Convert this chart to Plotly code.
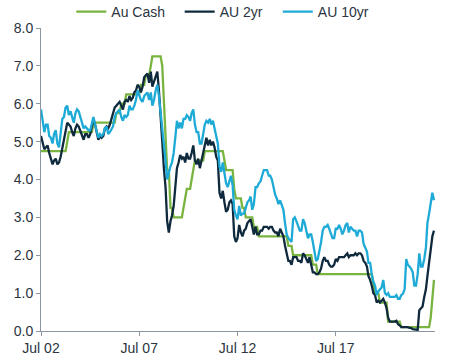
import pandas as pd
import plotly.graph_objects as go

# Monthly observations, Jul 2002 .. Jul 2022
dates = pd.date_range("2002-07-01", "2022-07-01", freq="MS")

au_cash = [
    4.75, 4.75, 4.75, 4.75, 4.75, 4.75,
    4.75, 4.75, 4.75, 4.75, 4.75, 4.75, 4.75, 4.75, 4.75, 4.75, 5.00, 5.25,
    5.25, 5.25, 5.25, 5.25, 5.25, 5.25, 5.25, 5.25, 5.25, 5.25, 5.25, 5.25,
    5.25, 5.25, 5.50, 5.50, 5.50, 5.50, 5.50, 5.50, 5.50, 5.50, 5.50, 5.50,
    5.50, 5.50, 5.50, 5.50, 5.75, 5.75, 5.75, 6.00, 6.00, 6.00, 6.25, 6.25,
    6.25, 6.25, 6.25, 6.25, 6.25, 6.25, 6.25, 6.50, 6.50, 6.50, 6.75, 6.75,
    6.75, 7.00, 7.25, 7.25, 7.25, 7.25, 7.25, 7.25, 7.00, 6.00, 5.25, 4.25,
    4.25, 3.25, 3.25, 3.00, 3.00, 3.00, 3.00, 3.00, 3.00, 3.25, 3.50, 3.75,
    3.75, 3.75, 4.00, 4.25, 4.50, 4.50, 4.50, 4.50, 4.50, 4.50, 4.75, 4.75,
    4.75, 4.75, 4.75, 4.75, 4.75, 4.75, 4.75, 4.75, 4.75, 4.75, 4.50, 4.25,
    4.25, 4.25, 4.25, 4.25, 3.75, 3.50, 3.50, 3.50, 3.50, 3.25, 3.25, 3.00,
    3.00, 3.00, 3.00, 3.00, 2.75, 2.75, 2.75, 2.50, 2.50, 2.50, 2.50, 2.50,
    2.50, 2.50, 2.50, 2.50, 2.50, 2.50, 2.50, 2.50, 2.50, 2.50, 2.50, 2.50,
    2.50, 2.25, 2.25, 2.25, 2.00, 2.00, 2.00, 2.00, 2.00, 2.00, 2.00, 2.00,
    2.00, 2.00, 2.00, 2.00, 1.75, 1.75, 1.75, 1.50, 1.50, 1.50, 1.50, 1.50,
    1.50, 1.50, 1.50, 1.50, 1.50, 1.50, 1.50, 1.50, 1.50, 1.50, 1.50, 1.50,
    1.50, 1.50, 1.50, 1.50, 1.50, 1.50, 1.50, 1.50, 1.50, 1.50, 1.50, 1.50,
    1.50, 1.50, 1.50, 1.50, 1.50, 1.25, 1.00, 1.00, 1.00, 0.75, 0.75, 0.75,
    0.75, 0.75, 0.25, 0.25, 0.25, 0.25, 0.25, 0.25, 0.25, 0.25, 0.10, 0.10,
    0.10, 0.10, 0.10, 0.10, 0.10, 0.10, 0.10, 0.10, 0.10, 0.10, 0.10, 0.10,
    0.10, 0.10, 0.10, 0.10, 0.35, 0.85, 1.35,
]

au_2yr = [
    5.15, 4.95, 4.80, 4.85, 4.90, 4.70,
    4.55, 4.40, 4.50, 4.55, 4.40, 4.45, 4.60, 4.85, 5.00, 5.35, 5.50, 5.45,
    5.40, 5.25, 5.15, 5.35, 5.45, 5.40, 5.30, 5.15, 5.05, 5.20, 5.20, 5.10,
    5.20, 5.40, 5.60, 5.45, 5.25, 5.05, 5.15, 5.10, 5.15, 5.35, 5.40, 5.35,
    5.45, 5.60, 5.70, 5.90, 5.95, 6.00, 6.05, 5.95, 5.85, 6.05, 6.10, 6.05,
    6.20, 6.10, 6.15, 6.30, 6.35, 6.50, 6.45, 6.30, 6.45, 6.70, 6.75, 6.80,
    6.55, 6.85, 6.45, 6.60, 6.75, 6.85, 6.35, 5.75, 5.00, 4.30, 3.80, 2.90,
    2.60, 2.90, 3.05, 3.30, 3.70, 4.30, 4.45, 4.65, 4.55, 4.60, 4.45, 4.70,
    4.55, 4.55, 4.70, 4.90, 4.50, 4.40, 4.55, 4.30, 4.50, 4.70, 4.95, 5.10,
    4.90, 5.05, 4.90, 5.00, 4.85, 4.60, 4.50, 3.65, 3.50, 3.70, 3.40, 3.15,
    3.20, 3.40, 3.45, 3.35, 2.50, 2.35, 2.45, 2.80, 2.60, 2.50, 2.65, 2.70,
    2.85, 2.90, 2.95, 2.75, 2.55, 2.75, 2.55, 2.55, 2.65, 2.65, 2.75, 2.75,
    2.75, 2.70, 2.75, 2.75, 2.65, 2.60, 2.60, 2.50, 2.70, 2.60, 2.50, 2.25,
    2.05, 1.85, 1.85, 1.75, 1.95, 1.95, 1.95, 1.85, 1.85, 1.80, 2.05, 2.00,
    1.90, 1.80, 1.95, 1.75, 1.55, 1.55, 1.50, 1.50, 1.55, 1.65, 1.85, 1.95,
    1.85, 1.85, 1.75, 1.70, 1.70, 1.75, 1.90, 1.85, 1.95, 1.95, 1.95, 1.95,
    2.00, 2.05, 1.95, 2.00, 2.00, 2.00, 2.05, 2.00, 2.05, 2.05, 2.00, 1.85,
    1.80, 1.70, 1.45, 1.35, 1.20, 1.00, 0.95, 0.75, 0.80, 0.75, 0.80, 0.85,
    0.75, 0.60, 0.35, 0.25, 0.25, 0.25, 0.25, 0.27, 0.18, 0.15, 0.10, 0.10,
    0.10, 0.10, 0.10, 0.08, 0.08, 0.05, 0.05, 0.03, 0.03, 0.55, 0.60, 0.65,
    0.90, 1.10, 1.45, 1.85, 2.20, 2.50, 2.65,
]

au_10yr = [
    5.85, 5.55, 5.25, 5.45, 5.45, 5.15,
    5.10, 4.95, 5.20, 5.30, 4.95, 4.85, 5.30, 5.60, 5.65, 5.90, 5.95, 5.70,
    5.80, 5.60, 5.50, 5.75, 5.85, 5.80, 5.65, 5.50, 5.35, 5.40, 5.35, 5.30,
    5.30, 5.45, 5.65, 5.45, 5.30, 5.10, 5.20, 5.15, 5.20, 5.35, 5.40, 5.20,
    5.25, 5.35, 5.40, 5.65, 5.75, 5.80, 5.85, 5.65, 5.55, 5.70, 5.65, 5.70,
    5.95, 5.85, 5.85, 5.95, 6.10, 6.35, 6.25, 6.10, 6.05, 6.20, 6.25, 6.30,
    6.10, 6.30, 5.95, 6.10, 6.35, 6.50, 6.20, 5.80, 5.40, 5.00, 4.50, 4.00,
    4.20, 4.35, 4.45, 4.70, 5.10, 5.55, 5.35, 5.50, 5.35, 5.60, 5.60, 5.70,
    5.65, 5.55, 5.75, 5.85, 5.45, 5.25, 5.25, 4.95, 4.95, 5.15, 5.45, 5.55,
    5.50, 5.60, 5.45, 5.55, 5.35, 5.20, 4.95, 4.35, 4.20, 4.45, 4.15, 3.90,
    3.80, 3.95, 4.10, 3.85, 3.20, 3.05, 2.95, 3.30, 3.05, 3.10, 3.10, 3.25,
    3.40, 3.45, 3.55, 3.20, 3.35, 3.80, 3.80, 3.90, 3.95, 4.10, 4.25, 4.25,
    4.25, 4.10, 4.10, 4.00, 3.75, 3.60, 3.50, 3.35, 3.45, 3.35, 3.20, 2.85,
    2.55, 2.45, 2.40, 2.35, 2.95, 3.00, 2.90, 2.75, 2.65, 2.65, 2.95, 2.85,
    2.65, 2.45, 2.55, 2.55, 2.35, 2.05, 1.85, 1.90, 2.10, 2.35, 2.65, 2.75,
    2.75, 2.80, 2.70, 2.55, 2.45, 2.45, 2.70, 2.70, 2.80, 2.70, 2.55, 2.65,
    2.80, 2.85, 2.60, 2.75, 2.70, 2.65, 2.65, 2.50, 2.65, 2.65, 2.60, 2.30,
    2.20, 2.10, 1.80, 1.80, 1.50, 1.30, 1.20, 0.95, 1.05, 1.10, 1.15, 1.35,
    1.00, 0.95, 1.00, 0.90, 0.90, 0.90, 0.90, 0.95, 0.85, 0.85, 0.95, 0.98,
    1.10, 1.90, 1.75, 1.70, 1.65, 1.55, 1.20, 1.20, 1.50, 2.05, 1.70, 1.70,
    1.90, 2.20, 2.85, 3.10, 3.35, 3.65, 3.45,
]

series_names = ["Au Cash", "AU 2yr", "AU 10yr"]
series_colors = ["#7ab440", "#0f2a3d", "#1eaad6"]

tick_dates = ["2002-07-01", "2007-07-01", "2012-07-01", "2017-07-01"]
tick_labels = ["Jul 02", "Jul 07", "Jul 12", "Jul 17"]
y_ticks = [0, 1, 2, 3, 4, 5, 6, 7, 8]

legend_ids = ["legend", "legend2", "legend3"]
legend_x = [0.077, 0.352, 0.601]

fig = go.Figure()
for name, vals, col, lg in zip(series_names, [au_cash, au_2yr, au_10yr],
                               series_colors, legend_ids):
    fig.add_trace(go.Scatter(x=dates, y=vals, mode="lines", name=name, legend=lg,
                             line=dict(color=col, width=2.3)))

axis_col = "#8a97a3"
legend_style = dict(orientation="h", xanchor="left", y=1.0, yanchor="bottom",
                    font=dict(size=14, color="#2b3440"), itemwidth=30,
                    bgcolor="rgba(0,0,0,0)")
fig.update_layout(
    width=450, height=362,
    margin=dict(l=41, r=15, t=28, b=31, autoexpand=False),
    paper_bgcolor="white", plot_bgcolor="white",
    font=dict(family="Liberation Sans, Arial, sans-serif", size=14, color="#2b3440"),
    showlegend=True,
    legend=dict(x=legend_x[0], **legend_style),
    legend2=dict(x=legend_x[1], **legend_style),
    legend3=dict(x=legend_x[2], **legend_style),
    xaxis=dict(type="date", range=["2002-07-01", "2022-07-20"],
               tickvals=tick_dates, ticktext=tick_labels,
               showgrid=False, zeroline=False, showline=True, linecolor=axis_col,
               linewidth=1, ticks="outside", ticklen=4, tickcolor=axis_col,
               tickfont=dict(size=14)),
    yaxis=dict(range=[0, 8], tickvals=y_ticks, tickformat=".1f",
               showgrid=False, zeroline=False, showline=True, linecolor=axis_col,
               linewidth=1, ticks="outside", ticklen=4, tickcolor=axis_col,
               tickfont=dict(size=14)),
)

# remove the default page margin so the figure fills the window exactly
fig.write_html("out.html", config={"displayModeBar": False},
               post_script="document.body.style.margin='0';")
